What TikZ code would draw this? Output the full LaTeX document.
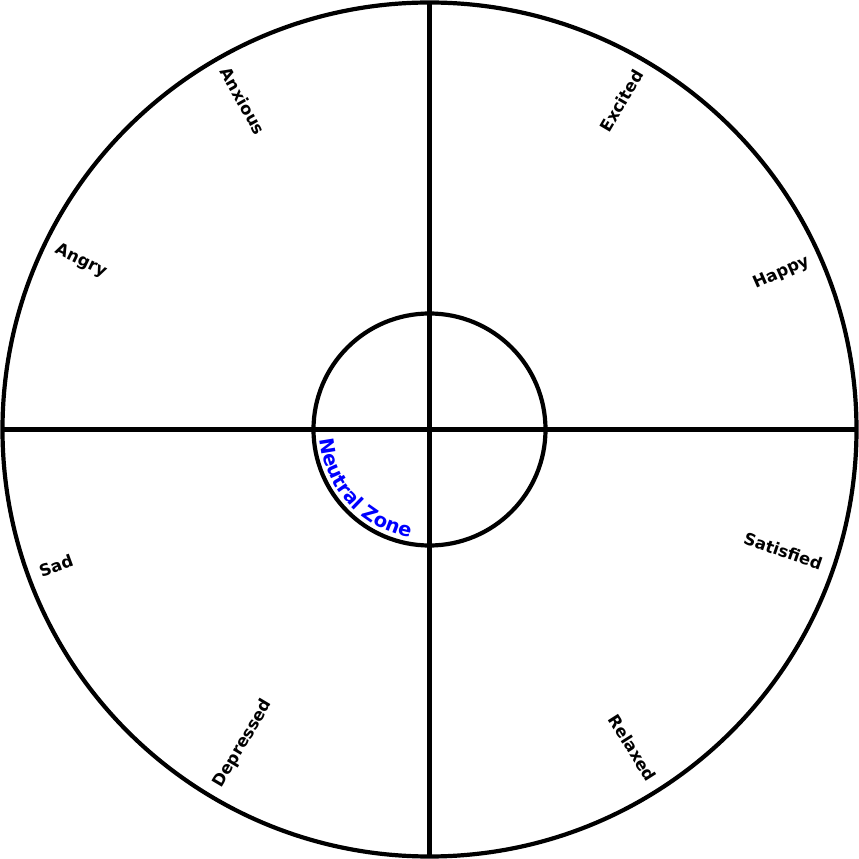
\documentclass[tikz,border=0pt]{standalone}
\usepackage{fontspec}
\setmainfont{DejaVu Sans}
\usetikzlibrary{decorations.text}
\begin{document}
\begin{tikzpicture}[x=1pt,y=1pt,
  ring/.style={circle,draw=black,line width=4.2pt,inner sep=0pt,outer sep=0pt},
  axisline/.style={draw=black,line width=4.2pt},
  lab/.style={font=\bfseries\fontsize{16.5}{17}\selectfont,inner sep=0pt,text=black}]
\useasboundingbox (-429.5,-429.5) rectangle (429.5,429.5);
\node[ring,minimum size=854pt] (outer) at (0,0) {};
\node[ring,minimum size=232pt] (inner) at (0,0) {};
\draw[axisline] (outer.north) -- (outer.south);
\draw[axisline] (outer.west) -- (outer.east);
% right side: reading outward
\node[lab,anchor=east,rotate=59.7] (excited) at (59.7:415) {Excited};
\node[lab,anchor=east,rotate=24] (happy) at (24:415) {Happy};
\node[lab,anchor=east,rotate=-19] (satisfied) at (-19:415) {Satisfied};
\node[lab,anchor=east,rotate=-57.5] (relaxed) at (-57.5:415) {Relaxed};
% left side: reading inward
\node[lab,anchor=west,rotate=-60.4] (anxious) at (119.6:415) {Anxious};
\node[lab,anchor=west,rotate=-25.8] (angry) at (154.2:415) {Angry};
\node[lab,anchor=west,rotate=20] (sad) at (200:415) {Sad};
\node[lab,anchor=west,rotate=59.3] (depressed) at (239.3:415) {Depressed};
% neutral zone
\path[decorate,decoration={text along path,text align=left,
  text={|\color{blue}\bfseries\fontsize{19.5}{20}\selectfont|Neutral Zone}}]
  (185:110) arc[start angle=185,end angle=300,radius=110];
\end{tikzpicture}
\end{document}
